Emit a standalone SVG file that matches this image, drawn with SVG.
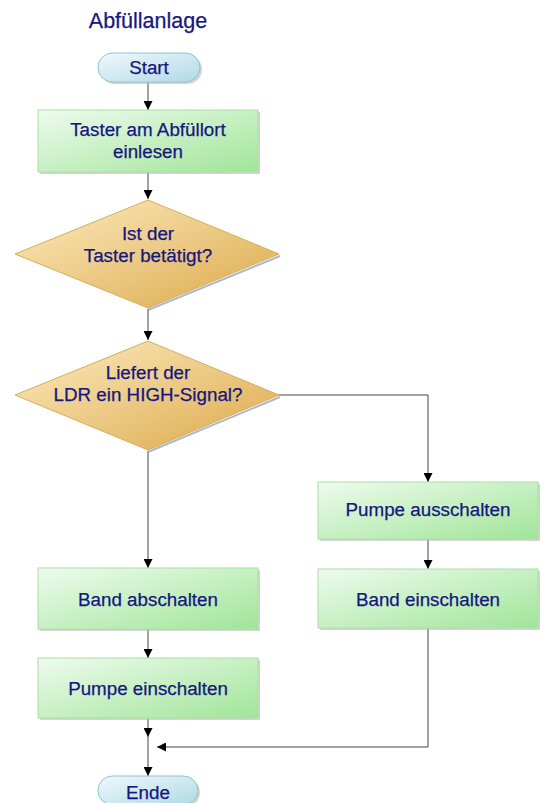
<svg xmlns="http://www.w3.org/2000/svg" width="544" height="803" viewBox="0 0 544 803">
<defs>
<linearGradient id="gGreen" x1="0" y1="0" x2="1" y2="1">
<stop offset="0" stop-color="#eefbee"/>
<stop offset="1" stop-color="#a0e598"/>
</linearGradient>
<linearGradient id="gGold" x1="0" y1="0" x2="1" y2="1">
<stop offset="0" stop-color="#fcecc0"/>
<stop offset="1" stop-color="#dca84a"/>
</linearGradient>
<linearGradient id="gBlue" x1="0" y1="0" x2="1" y2="1">
<stop offset="0" stop-color="#f0f8fb"/>
<stop offset="1" stop-color="#b0d9e6"/>
</linearGradient>
<marker id="arr" viewBox="0 0 10 10" refX="10" refY="5" markerWidth="9" markerHeight="9" markerUnits="userSpaceOnUse" orient="auto">
<path d="M0,0 L10,5 L0,10 Z" fill="#000"/>
</marker>
</defs>
<style>
.t{font-family:"Liberation Sans",Arial,sans-serif;font-size:18.8px;fill:#161680;text-anchor:middle;stroke:#161680;stroke-width:0.25}
.box{fill:url(#gGreen);stroke:#a9e0a2;stroke-width:1}
.dia{fill:url(#gGold);stroke:#d8ae56;stroke-width:1}
.pill{fill:url(#gBlue);stroke:#8fc3d3;stroke-width:1}
.sh{fill:#b8b8b8;opacity:0.6}
.dsh{fill:none;stroke:#8a9ab8;stroke-width:2;opacity:0.7}
.c{fill:none;stroke:#444;stroke-width:1}
</style>
<rect width="544" height="803" fill="#fff"/>
<text class="t" x="148" y="28" style="font-size:21.5px">Abfüllanlage</text>

<g id="connectors">
<line class="c" x1="148" y1="82" x2="148" y2="110" marker-end="url(#arr)"/>
<line class="c" x1="148" y1="172" x2="148" y2="199" marker-end="url(#arr)"/>
<line class="c" x1="148" y1="309" x2="148" y2="340" marker-end="url(#arr)"/>
<polyline class="c" points="279,395 428,395 428,482" marker-end="url(#arr)"/>
<line class="c" x1="148" y1="451" x2="148" y2="568" marker-end="url(#arr)"/>
<line class="c" x1="428" y1="539" x2="428" y2="569" marker-end="url(#arr)"/>
<line class="c" x1="148" y1="629" x2="148" y2="658" marker-end="url(#arr)"/>
<line class="c" x1="148" y1="718" x2="148" y2="737" marker-end="url(#arr)"/>
<polyline class="c" points="428,628 428,747 157,747" marker-end="url(#arr)"/>
<line class="c" x1="148" y1="737" x2="148" y2="776" marker-end="url(#arr)"/>
</g>

<g id="start">
<rect class="sh" x="100" y="55" width="102" height="29" rx="14.5"/>
<rect class="pill" x="98" y="53" width="102" height="29" rx="14.5"/>
<text class="t" x="149" y="74">Start</text>
</g>

<g id="taster-einlesen">
<rect class="sh" x="40" y="112" width="220" height="62"/>
<rect class="box" x="38" y="110" width="220" height="62"/>
<text class="t" x="148" y="136">Taster am Abfüllort</text>
<text class="t" x="148" y="158">einlesen</text>
</g>

<g id="taster-betaetigt">
<polyline class="dsh" points="280,256 148,310"/>
<polygon class="dia" points="148,200 279,254 148,308 15,254"/>
<text class="t" x="148" y="240">Ist der</text>
<text class="t" x="148" y="262">Taster betätigt?</text>
</g>

<g id="ldr-high">
<polyline class="dsh" points="280,397 148,452"/>
<polygon class="dia" points="148,341 279,395 148,450 15,395"/>
<text class="t" x="148" y="379">Liefert der</text>
<text class="t" x="148" y="401">LDR ein HIGH-Signal?</text>
</g>

<g id="pumpe-ausschalten">
<rect class="sh" x="320" y="484" width="220" height="57"/>
<rect class="box" x="318" y="482" width="220" height="57"/>
<text class="t" x="428" y="516">Pumpe ausschalten</text>
</g>

<g id="band-einschalten">
<rect class="sh" x="320" y="571" width="220" height="59"/>
<rect class="box" x="318" y="569" width="220" height="59"/>
<text class="t" x="428" y="606">Band einschalten</text>
</g>

<g id="band-abschalten">
<rect class="sh" x="40" y="570" width="220" height="61"/>
<rect class="box" x="38" y="568" width="220" height="61"/>
<text class="t" x="148" y="606">Band abschalten</text>
</g>

<g id="pumpe-einschalten">
<rect class="sh" x="40" y="660" width="220" height="60"/>
<rect class="box" x="38" y="658" width="220" height="60"/>
<text class="t" x="148" y="695">Pumpe einschalten</text>
</g>

<g id="ende">
<rect class="sh" x="100" y="778" width="100" height="29" rx="14.5"/>
<rect class="pill" x="98" y="776" width="100" height="29" rx="14.5"/>
<text class="t" x="148" y="799">Ende</text>
</g>
</svg>
